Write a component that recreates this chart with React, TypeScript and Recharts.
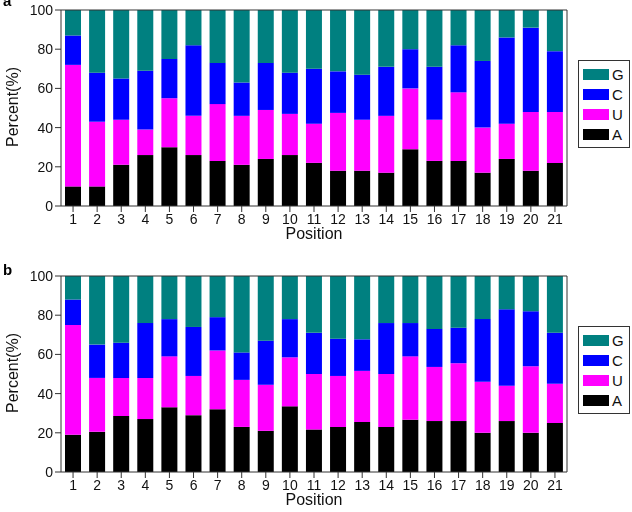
import { Bar, BarChart, XAxis, YAxis } from "recharts";

const positions = ["1","2","3","4","5","6","7","8","9","10","11","12","13","14","15","16","17","18","19","20","21"];
const yTicks = [0, 20, 40, 60, 80, 100];

// panel a: cumulative tops
const aTopA = [10, 10, 21, 26, 30, 26, 23, 21, 24, 26, 22, 18, 18, 17, 29, 23, 23, 17, 24, 18, 22];
const aTopU = [72, 43, 44, 39, 55, 46, 52, 46, 49, 47, 42, 47.5, 44, 46, 60, 44, 58, 40, 42, 48, 48];
const aTopC = [87, 68, 65, 69, 75, 82, 73, 63, 73, 68, 70, 68.7, 67, 71, 80, 71, 82, 74, 86, 91, 79];

// panel b
const bTopA = [19, 20.5, 28.6, 27, 33, 29, 32, 23, 21, 33.5, 21.7, 23, 25.5, 23, 26.7, 26, 26, 20, 26, 20, 25];
const bTopU = [75, 48, 48, 48, 59, 49, 62, 47, 44.5, 58.5, 50, 49, 51.6, 50, 59, 53.6, 55.5, 46, 44, 54, 45];
const bTopC = [88, 65, 66, 76, 78, 74, 79, 61, 67, 78, 71, 68, 67.7, 76, 76, 73, 73.6, 78, 83, 82, 71];

const toRows = (a: number[], u: number[], c: number[]) =>
  positions.map((p, i) => ({
    pos: p,
    A: a[i],
    U: u[i] - a[i],
    C: c[i] - u[i],
    G: 100 - c[i],
  }));

const series = [
  { key: "A", color: "#000000" },
  { key: "U", color: "#ff00ff" },
  { key: "C", color: "#0000ff" },
  { key: "G", color: "#008080" },
];

const font = "'Liberation Sans', Arial, sans-serif";

function LegendBox({ top }: { top: number }) {
  return (
    <div style={{ position: "absolute", left: 578, top, border: "1px solid #333", padding: "3px 4px", background: "#fff", width: 42 }}>
      {[...series].reverse().map((s) => (
        <div key={s.key} style={{ display: "flex", alignItems: "center", height: 20, fontSize: 15, color: "#111" }}>
          <div style={{ width: 26, height: 11, background: s.color, marginRight: 3 }} />
          {s.key}
        </div>
      ))}
    </div>
  );
}

function Panel({ rows, label, top }: { rows: any[]; label: string; top: number }) {
  return (
    <div style={{ position: "absolute", left: 0, top, width: 632, height: 256, fontFamily: font }}>
      <div style={{ position: "absolute", left: 3, top: label === "a" ? -8 : -5, fontWeight: "bold", fontSize: 15 }}>{label}</div>
      <div
        style={{
          position: "absolute", left: 13, top: 107, fontSize: 16, color: "#111",
          transform: "translate(-50%, -50%) rotate(-90deg)", whiteSpace: "nowrap",
        }}
      >
        Percent(%)
      </div>
      <div style={{ position: "absolute", left: 314, top: 225, fontSize: 16, color: "#111", transform: "translateX(-50%)" }}>
        Position
      </div>
      <BarChart width={632} height={256} data={rows} margin={{ top: 9, right: 64, left: 0, bottom: 20 }} barSize={16}>
        <XAxis
          dataKey="pos"
          height={30}
          tick={{ fill: "#111", fontSize: 14 }}
          tickLine={{ stroke: "#333" }}
          axisLine={{ stroke: "#333" }}
        />
        <XAxis xAxisId="top" dataKey="pos" orientation="top" tick={false} tickLine={false} axisLine={{ stroke: "#333" }} height={1} />
        <YAxis
          width={61}
          domain={[0, 100]}
          ticks={yTicks}
          tick={{ fill: "#111", fontSize: 14 }}
          tickLine={{ stroke: "#333" }}
          axisLine={{ stroke: "#333" }}
        />
        <YAxis yAxisId="right" orientation="right" domain={[0, 100]} tick={false} tickLine={false} axisLine={{ stroke: "#333" }} width={1} />
        {series.map((s) => (
          <Bar key={s.key} dataKey={s.key} stackId="s" fill={s.color} isAnimationActive={false} />
        ))}
      </BarChart>
      <LegendBox top={60} />
    </div>
  );
}

export default function App() {
  return (
    <div style={{ position: "fixed", left: 0, top: 0, width: 632, height: 512, background: "#fff" }}>
      <Panel rows={toRows(aTopA, aTopU, aTopC)} label="a" top={0} />
      <Panel rows={toRows(bTopA, bTopU, bTopC)} label="b" top={266} />
    </div>
  );
}
